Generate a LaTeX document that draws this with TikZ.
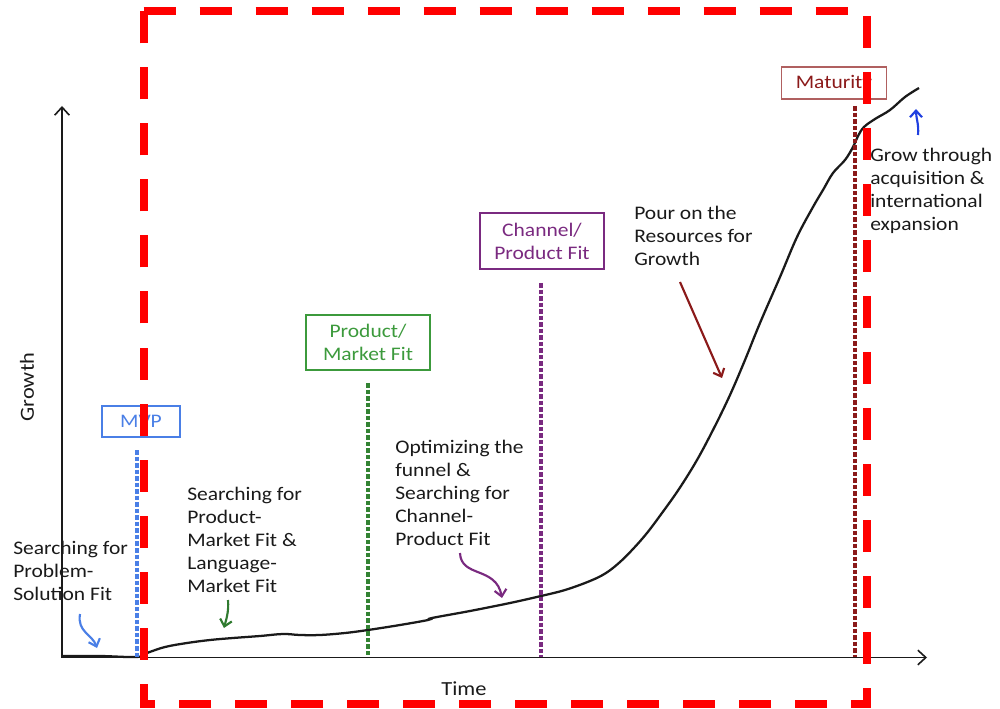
\documentclass[tikz,border=0pt]{standalone}
\usepackage{fontspec}
\setmainfont{Carlito}[FakeStretch=1.12]
\usetikzlibrary{arrows.meta}
\definecolor{mvpblue}{HTML}{4A7FE6}
\definecolor{fitgreen}{HTML}{3C9A3C}
\definecolor{cpfpurple}{HTML}{7A2A80}
\definecolor{matred}{HTML}{8B1A1A}
\definecolor{matborder}{HTML}{B06060}
\definecolor{growblue}{HTML}{2040E0}
\definecolor{ink}{HTML}{1A1A1A}
\tikzset{
  lbl/.style={font=\fontsize{14.4}{17.25}\selectfont, text=ink, align=left, anchor=north west, inner sep=0pt},
  stagebox/.style={draw, line width=1.1pt, align=center, font=\fontsize{14.4}{17.25}\selectfont, inner sep=0pt},
  stageline/.style={line width=2.4pt, dash pattern=on 3.4pt off 1.5pt},
  axisline/.style={line width=1.2pt, ink, -{Straight Barb[length=6pt,width=11pt,line width=1.2pt]}},
  hint/.style={line width=1.6pt, -{Straight Barb[length=5pt,width=9pt,line width=1.6pt]}},
  growth/.style={line width=1.7pt, ink},
  redframe/.style={red, line width=6pt, dash pattern=on 24pt off 18pt}
}
\begin{document}
\begin{tikzpicture}[x=0.75pt,y=-0.75pt]
\useasboundingbox (0,0) rectangle (1000,709);
% axes
\coordinate (O) at (62,657.5);
\coordinate (ytop) at (62,106);
\coordinate (xend) at (927,657.5);
\draw[axisline] (O) -- (ytop);
\draw[axisline] (O) -- (xend);
\node[font=\fontsize{15}{18}\selectfont, text=ink, rotate=90] (ylab) at (27,387) {Growth};
\node[font=\fontsize{15}{18}\selectfont, text=ink] (xlab) at (464,689) {Time};
% growth curve
\draw[growth] plot[smooth, tension=0.6] coordinates {
(62,656) (100,656) (137,657) (147,653) (165,647) (187,643) (210,640) (233,638) (260,636) (283,634) (300,635) (320,635) (345,633) (368,630) (400,625) (428,620) (432,618) (470,611) (510,603) (541,596) (565,590) (590,581) (606,573) (620,562) (633,549) (647,533) (662,513) (679,489) (697,460) (714,428) (730,395) (745,360) (760,323) (780,277) (797,237) (813,207) (823,190) (833,173) (845,160) (853,147) (858,136) (864,127) (875,119) (890,110) (905,97) (919,88)};
% stage boxes
\node[stagebox, draw=mvpblue, text=mvpblue, minimum width=58.5pt, minimum height=23.25pt] (mvp) at (141,421.5) {MVP};
\node[stagebox, draw=fitgreen, text=fitgreen, minimum width=93pt, minimum height=41pt] (pmf) at (368,342.5) {Product/\\Market Fit};
\node[stagebox, draw=cpfpurple, text=cpfpurple, minimum width=93pt, minimum height=42pt] (cpf) at (542,241) {Channel/\\Product Fit};
\node[stagebox, draw=matborder, text=matred, minimum width=79pt, minimum height=24pt] (mat) at (834,83) {Maturity};
% stage lines
\coordinate (mvpT) at (137,450); \coordinate (mvpB) at (137,657);
\coordinate (pmfT) at (368,383); \coordinate (pmfB) at (368,657);
\coordinate (cpfT) at (541,283); \coordinate (cpfB) at (541,657);
\coordinate (matT) at (855,106); \coordinate (matB) at (855,657);
\draw[stageline, mvpblue] (mvpT) -- (mvpB);
\draw[stageline, fitgreen!85!black] (pmfT) -- (pmfB);
\draw[stageline, cpfpurple] (cpfT) -- (cpfB);
\draw[stageline, matred] (matT) -- (matB);
% labels
\node[lbl] (ps) at (13,541) {Searching for\\Problem-\\Solution Fit};
\node[lbl] (pm) at (187,487) {Searching for\\Product-\\Market Fit \&\\Language-\\Market Fit};
\node[lbl] (opt) at (395,440) {Optimizing the\\funnel \&\\Searching for\\Channel-\\Product Fit};
\node[lbl] (pour) at (634,206) {Pour on the\\Resources for\\Growth};
\node[lbl] (grow) at (870,148) {Grow through\\acquisition \&\\international\\expansion};
% hint arrows
\coordinate (a1s) at (80,614); \coordinate (a1e) at (97,648);
\draw[hint, mvpblue] (a1s) .. controls (77,632) and (92,634) .. (a1e);
\coordinate (a2s) at (228,600); \coordinate (a2e) at (224,628);
\draw[hint, fitgreen!80!black] (a2s) .. controls (229,612) and (226,620) .. (a2e);
\coordinate (a3s) at (460,553); \coordinate (a3e) at (502,598);
\draw[hint, cpfpurple] (a3s) .. controls (461,578) and (496,566) .. (a3e);
\coordinate (a4s) at (680,282); \coordinate (a4e) at (722,378);
\draw[hint, matred] (a4s) -- (a4e);
\coordinate (a5s) at (918,135); \coordinate (a5e) at (916,109);
\draw[hint, growblue] (a5s) .. controls (919,124) and (916,118) .. (a5e);
% red frame (clockwise from top-left)
\coordinate (fTL) at (143.5,11.5); \coordinate (fTR) at (867,11.5);
\coordinate (fBR) at (867,704); \coordinate (fBL) at (143.5,704);
\draw[redframe] (fTL) -- (fTR) -- (fBR) -- (fBL) -- cycle;
\end{tikzpicture}
\end{document}
